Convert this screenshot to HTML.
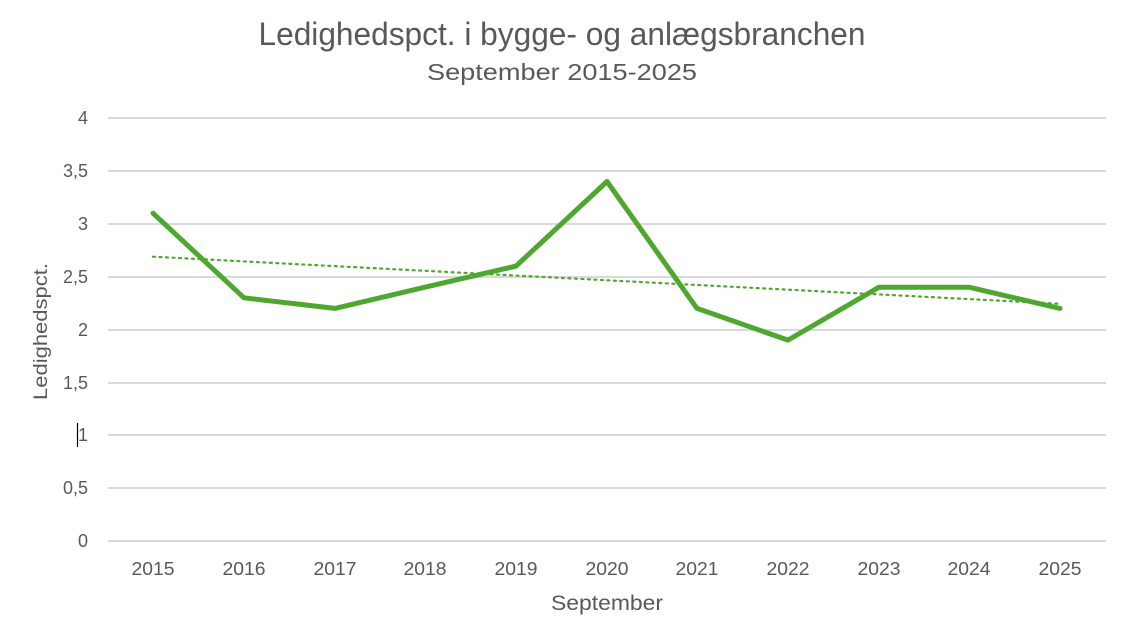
<!DOCTYPE html>
<html><head><meta charset="utf-8"><style>
html,body{margin:0;padding:0;background:#fff;}
svg{display:block;}
text{font-family:"Liberation Sans",Arial,sans-serif;fill:#595959;}
</style></head><body>
<svg width="1128" height="642" viewBox="0 0 1128 642" xmlns="http://www.w3.org/2000/svg">
<rect width="1128" height="642" fill="#fff"/>
<text x="562" y="45" font-size="32" text-anchor="middle" textLength="607" lengthAdjust="spacingAndGlyphs">Ledighedspct. i bygge- og anlægsbranchen</text>
<text x="562" y="80" font-size="23" text-anchor="middle" textLength="270" lengthAdjust="spacingAndGlyphs">September 2015-2025</text>
<g stroke="#d9d9d9" stroke-width="2">
<line x1="108" y1="118" x2="1106" y2="118"/>
<line x1="108" y1="171" x2="1106" y2="171"/>
<line x1="108" y1="224" x2="1106" y2="224"/>
<line x1="108" y1="277" x2="1106" y2="277"/>
<line x1="108" y1="330" x2="1106" y2="330"/>
<line x1="108" y1="383" x2="1106" y2="383"/>
<line x1="108" y1="435" x2="1106" y2="435"/>
<line x1="108" y1="488" x2="1106" y2="488"/>
<line x1="108" y1="541" x2="1106" y2="541"/>
</g>
<g font-size="18" text-anchor="end">
<text x="88" y="124">4</text>
<text x="88" y="177">3,5</text>
<text x="88" y="230">3</text>
<text x="88" y="283">2,5</text>
<text x="88" y="336">2</text>
<text x="88" y="389">1,5</text>
<text x="88" y="441">1</text>
<text x="88" y="494">0,5</text>
<text x="88" y="547">0</text>
</g>
<line x1="77.5" y1="423" x2="77.5" y2="447" stroke="#000" stroke-width="1.2"/>
<g font-size="18" text-anchor="middle">
<text x="153" y="575" textLength="43" lengthAdjust="spacingAndGlyphs">2015</text>
<text x="244" y="575" textLength="43" lengthAdjust="spacingAndGlyphs">2016</text>
<text x="335" y="575" textLength="43" lengthAdjust="spacingAndGlyphs">2017</text>
<text x="425" y="575" textLength="43" lengthAdjust="spacingAndGlyphs">2018</text>
<text x="516" y="575" textLength="43" lengthAdjust="spacingAndGlyphs">2019</text>
<text x="607" y="575" textLength="43" lengthAdjust="spacingAndGlyphs">2020</text>
<text x="697" y="575" textLength="43" lengthAdjust="spacingAndGlyphs">2021</text>
<text x="788" y="575" textLength="43" lengthAdjust="spacingAndGlyphs">2022</text>
<text x="879" y="575" textLength="43" lengthAdjust="spacingAndGlyphs">2023</text>
<text x="969" y="575" textLength="43" lengthAdjust="spacingAndGlyphs">2024</text>
<text x="1060" y="575" textLength="43" lengthAdjust="spacingAndGlyphs">2025</text>
</g>
<text x="607" y="610" font-size="21" text-anchor="middle" textLength="112" lengthAdjust="spacingAndGlyphs">September</text>
<text transform="translate(47,331.5) rotate(-90)" font-size="19" text-anchor="middle" textLength="137" lengthAdjust="spacingAndGlyphs">Ledighedspct.</text>
<line x1="153" y1="256.7" x2="1060" y2="303.8" stroke="#4ea72e" stroke-width="2.2" stroke-dasharray="2 4.5" stroke-linecap="round"/>
<polyline fill="none" stroke="#4ea72e" stroke-width="5" stroke-linejoin="round" stroke-linecap="round"
points="153,213.2 244,297.8 335,308.4 425,287.2 516,266.1 607,181.5 697,308.4 788,340.1 879,287.2 969,287.2 1060,308.4"/>
</svg>
</body></html>
